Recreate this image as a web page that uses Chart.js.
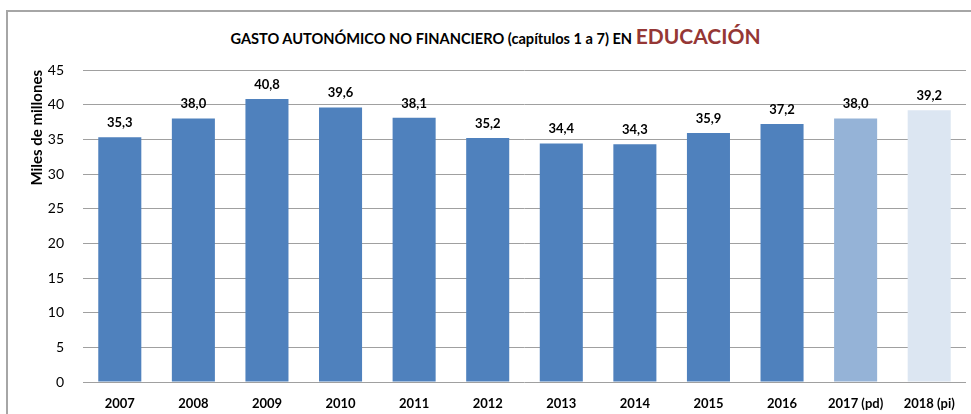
<!DOCTYPE html>
<html>
<head>
<meta charset="utf-8">
<script src="https://cdn.jsdelivr.net/npm/chart.js@4"></script>
<style>
    body { margin: 0; width: 971px; height: 414px; overflow: hidden; background: #fff; font-family: Lato, sans-serif; }
    #frame { position: absolute; left: 6px; top: 10px; width: 2000px; height: 1000px; border-top: 2px solid #a6a6a6; border-left: 2px solid #a6a6a6; }
    #title { position: absolute; left: 0; top: 23px; width: 991px; text-align: center; font-weight: bold; font-size: 14.6px; color: #000; }
    #title span { font-size: 21px; color: #953735; }
    #chart { position: absolute; left: 0; top: 0; }
</style>
</head>
<body>
<div id="frame"></div>
<div id="title">GASTO AUTONÓMICO NO FINANCIERO (capítulos 1 a 7) EN <span>EDUCACIÓN</span></div>
<canvas id="chart" width="971" height="414"></canvas>
<script>
const years = ["2007", "2008", "2009", "2010", "2011", "2012", "2013", "2014", "2015", "2016", "2017 (pd)", "2018 (pi)"];
const spending = [35.3, 38.0, 40.8, 39.6, 38.1, 35.2, 34.4, 34.3, 35.9, 37.2, 38.0, 39.2];
const yTicks = [0, 5, 10, 15, 20, 25, 30, 35, 40, 45];

const barColours = ["#4f81bd", "#4f81bd", "#4f81bd", "#4f81bd", "#4f81bd", "#4f81bd",
    "#4f81bd", "#4f81bd", "#4f81bd", "#4f81bd", "#95b3d7", "#dce6f2"];

// value labels above each bar, spanish decimal comma
const valueLabels = {
    id: "valueLabels",
    afterDatasetsDraw(chart) {
        const ctx = chart.ctx;
        const meta = chart.getDatasetMeta(0);
        ctx.save();
        ctx.font = "bold 13px Lato";
        ctx.fillStyle = "#000";
        ctx.textAlign = "center";
        ctx.textBaseline = "bottom";
        meta.data.forEach((bar, i) => {
            const txt = spending[i].toFixed(1).replace(".", ",");
            ctx.fillText(txt, bar.x, bar.y - 8);
        });
        ctx.restore();
    }
};

new Chart(document.getElementById("chart").getContext("2d"), {
    type: "bar",
    data: {
        labels: years,
        datasets: [{
            data: spending,
            backgroundColor: barColours,
            barPercentage: 0.585,
            categoryPercentage: 1
        }]
    },
    options: {
        responsive: false,
        animation: false,
        layout: { padding: { left: 0, right: 5, top: 70, bottom: 0 } },
        plugins: {
            legend: { display: false },
            tooltip: { enabled: false }
        },
        scales: {
            x: {
                grid: { display: false },
                border: { display: false },
                ticks: { color: "#000", font: { family: "Lato", weight: "bold", size: 13 }, padding: 6, maxRotation: 0 },
                afterFit(scale) { scale.height = 32; }
            },
            y: {
                min: 0,
                max: 45,
                afterBuildTicks(scale) { scale.ticks = yTicks.map(v => ({ value: v })); },
                grid: { color: "#a0a0a0", lineWidth: 1, drawTicks: false },
                border: { display: false },
                ticks: { color: "#000", font: { family: "Lato", size: 14 }, padding: 19 },
                title: {
                    display: true,
                    text: "Miles de millones",
                    align: "end",
                    color: "#000",
                    font: { family: "Lato", weight: "bold", size: 15 },
                    padding: { top: 28, bottom: 0 }
                },
                afterFit(scale) { scale.width = 83; }
            }
        }
    },
    plugins: [valueLabels]
});
</script>
</body>
</html>
